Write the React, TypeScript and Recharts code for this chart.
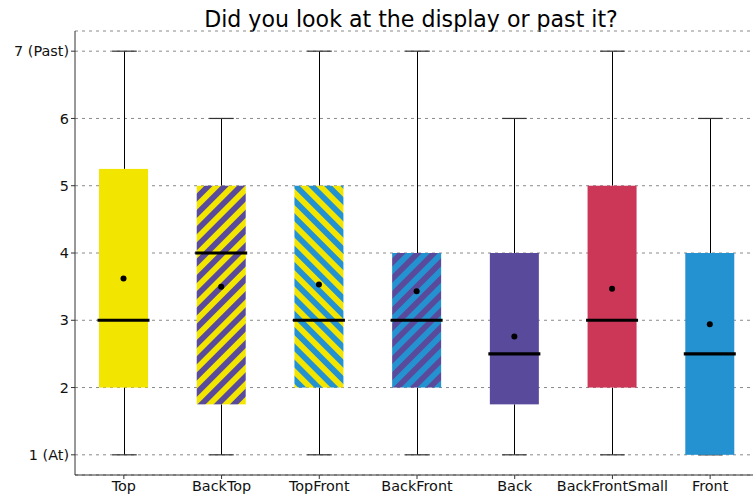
import React from 'react';
import { ComposedChart, Bar, XAxis, YAxis, CartesianGrid } from 'recharts';

const categories = ['Top', 'BackTop', 'TopFront', 'BackFront', 'Back', 'BackFrontSmall', 'Front'];
const whiskerLow = [1, 1, 1, 1, 1, 1, 1];
const quartile1 = [2, 1.75, 2, 2, 1.75, 2, 1];
const medians = [3, 4, 3, 3, 2.5, 3, 2.5];
const quartile3 = [5.25, 5, 5, 4, 4, 5, 4];
const whiskerHigh = [7, 6, 7, 7, 6, 7, 6];
const means = [3.62, 3.5, 3.53, 3.43, 2.76, 3.47, 2.94];
const yTicks = [1, 2, 3, 4, 5, 6, 7];
const yTickLabels = ['1 (At)', '2', '3', '4', '5', '6', '7 (Past)'];

const YELLOW = '#F2E600';
const PURPLE = '#594A9B';
const BLUE = '#2491D0';
const RED = '#CD3757';

type FillStyle = { color: string; stripe?: boolean; bg?: string; fg?: string; angle?: number };
const fillStyles: FillStyle[] = [
  { color: YELLOW },
  { color: YELLOW, stripe: true, bg: YELLOW, fg: PURPLE, angle: 45 },
  { color: BLUE, stripe: true, bg: BLUE, fg: YELLOW, angle: -45 },
  { color: BLUE, stripe: true, bg: BLUE, fg: PURPLE, angle: 45 },
  { color: PURPLE },
  { color: RED },
  { color: BLUE },
];

const data = categories.map((name, i) => ({
  name,
  range: [whiskerLow[i], whiskerHigh[i]],
  lo: whiskerLow[i],
  q1: quartile1[i],
  med: medians[i],
  q3: quartile3[i],
  hi: whiskerHigh[i],
  mean: means[i],
}));

const PERIOD = 11.5;
const FONT = "'DejaVu Sans', sans-serif";

const BoxShape = (props: any) => {
  const { x, y, width, height, payload } = props;
  const idx = categories.indexOf(payload.name);
  const { lo, hi, q1, q3, med, mean } = payload;
  const k = height / (hi - lo);
  const py = (v: number) => y + (hi - v) * k;
  const cx = Math.round(x + width / 2) + 0.5;
  const capW = width / 2;
  const st = fillStyles[idx];
  const pid = `stripe-${idx}`;
  let fill = st.color;
  let defs: any = null;
  if (st.stripe) {
    defs = (
      <defs>
        <pattern id={pid} patternUnits="userSpaceOnUse" width={PERIOD} height={PERIOD} patternTransform={`rotate(${st.angle})`}>
          <rect x={0} y={0} width={PERIOD} height={PERIOD} fill={st.bg} />
          <rect x={0} y={0} width={PERIOD / 2} height={PERIOD} fill={st.fg} />
        </pattern>
      </defs>
    );
    fill = `url(#${pid})`;
  }
  return (
    <g>
      {defs}
      <line x1={cx} x2={cx} y1={py(hi)} y2={py(q3)} stroke="#000" strokeWidth={1} />
      <line x1={cx} x2={cx} y1={py(q1)} y2={py(lo)} stroke="#000" strokeWidth={1} />
      <line x1={cx - capW / 2} x2={cx + capW / 2} y1={py(hi)} y2={py(hi)} stroke="#333" strokeWidth={1.2} />
      <line x1={cx - capW / 2} x2={cx + capW / 2} y1={py(lo)} y2={py(lo)} stroke="#333" strokeWidth={1.2} />
      <rect x={x} y={py(q3)} width={width} height={py(q1) - py(q3)} fill={fill} />
      <line x1={x - 1.5} x2={x + width + 1.5} y1={py(med)} y2={py(med)} stroke="#000" strokeWidth={3.2} />
      <circle cx={x + width / 2} cy={py(mean)} r={3} fill="#000" />
    </g>
  );
};

export default function App() {
  return (
    <div
      style={{
        position: 'fixed',
        left: 0,
        top: 0,
        width: 753,
        height: 498,
        overflow: 'hidden',
        background: '#fff',
        fontFamily: FONT,
      }}
    >
      <div
        style={{
          position: 'absolute',
          left: 411,
          top: 6,
          transform: 'translateX(-50%)',
          whiteSpace: 'nowrap',
          fontSize: 22.1,
          fontFamily: FONT,
          color: '#000',
        }}
      >
        Did you look at the display or past it?
      </div>
      <div style={{ position: 'absolute', left: 0, top: 0 }}>
        <ComposedChart
          width={760}
          height={498}
          data={data}
          margin={{ top: 31, right: 1, bottom: 0, left: 0 }}
        >
          <CartesianGrid horizontal vertical={false} stroke="#8a8a8a" strokeDasharray="3 4" />
          <XAxis
            xAxisId="top"
            orientation="top"
            dataKey="name"
            height={0}
            tick={false}
            tickLine={false}
            axisLine={{ stroke: '#333', strokeWidth: 1 }}
          />
          <XAxis
            dataKey="name"
            height={23}
            tickSize={4}
            tickMargin={2}
            interval={0}
            axisLine={{ stroke: '#333', strokeWidth: 1 }}
            tickLine={{ stroke: '#333' }}
            tick={{ fill: '#111', fontSize: 14.4, fontFamily: FONT }}
          />
          <YAxis
            type="number"
            domain={[0.7, 7.3]}
            ticks={yTicks}
            allowDataOverflow
            width={75}
            tickSize={4}
            tickMargin={2}
            interval={0}
            tickFormatter={(v: number) => yTickLabels[yTicks.indexOf(v)] ?? String(v)}
            axisLine={{ stroke: '#333', strokeWidth: 1 }}
            tickLine={{ stroke: '#333' }}
            tick={{ fill: '#111', fontSize: 14.4, fontFamily: FONT }}
          />
          <Bar dataKey="range" barSize={49} shape={BoxShape} isAnimationActive={false} />
        </ComposedChart>
      </div>
    </div>
  );
}
